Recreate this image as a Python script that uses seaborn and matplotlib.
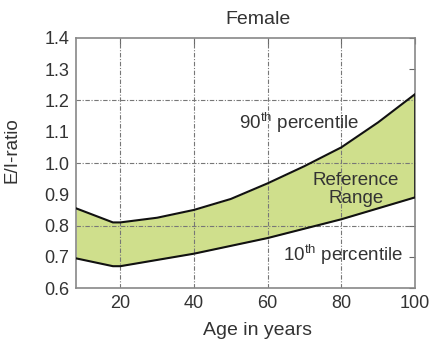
import numpy as np
import pandas as pd
import seaborn as sns
import matplotlib.pyplot as plt

# reference range
age = [8, 18, 20, 30, 40, 50, 60, 70, 80, 90, 100]
p90 = [0.855, 0.81, 0.81, 0.825, 0.85, 0.885, 0.935, 0.99, 1.05, 1.13, 1.22]
p10 = [0.695, 0.67, 0.67, 0.69, 0.71, 0.735, 0.76, 0.79, 0.82, 0.855, 0.89]

x_ticks = [20, 40, 60, 80, 100]
y_ticks = [0.6, 0.7, 0.8, 0.9, 1.0, 1.1, 1.2, 1.3, 1.4]
x_grid = [20, 40, 60, 80]
y_grid = [0.8, 1.0, 1.2]

sns.set_style("white")
plt.rcParams['font.family'] = ['Liberation Sans', 'DejaVu Sans']
plt.rcParams['mathtext.fontset'] = 'custom'
plt.rcParams['mathtext.rm'] = 'Liberation Sans'
plt.rcParams['mathtext.it'] = 'Liberation Sans'

df = pd.DataFrame({"age": age, "p90": p90, "p10": p10})

fig, ax = plt.subplots(figsize=(4.3, 3.45), dpi=100)
fig.subplots_adjust(left=0.177, right=0.965, top=0.89, bottom=0.165)

ax.fill_between(df.age, df.p10, df.p90, color="#cfdf8c", lw=0, zorder=1)
sns.lineplot(data=df, x="age", y="p90", color="#111111", lw=1.5, ax=ax, zorder=3)
sns.lineplot(data=df, x="age", y="p10", color="#111111", lw=1.5, ax=ax, zorder=3)
ax.plot([age[-1], age[-1]], [p10[-1], p90[-1]], color="#111111", lw=1.8, zorder=3)

for g in x_grid:
    ax.axvline(g, color="#777777", lw=0.8, ls=(0, (4, 1.5, 1, 1.5)), zorder=2)
for g in y_grid:
    ax.axhline(g, color="#777777", lw=0.8, ls=(0, (4, 1.5, 1, 1.5)), zorder=2)

ax.set_xlim(8, 100)
ax.set_ylim(0.6, 1.4)
ax.set_xticks(x_ticks)
ax.set_yticks(y_ticks)
ax.set_yticklabels([f"{v:.1f}" for v in y_ticks])
ax.tick_params(direction="in", length=4, color="#666666", labelsize=13,
               labelcolor="#333333", top=True, right=True, pad=5)
for s in ax.spines.values():
    s.set_color("#888888")
    s.set_linewidth(1.2)

ax.set_title("Female", fontsize=14, color="#333333", pad=10, x=0.537)
ax.set_xlabel("Age in years", fontsize=14, color="#333333")
ax.set_ylabel("E/I-ratio", fontsize=13.5, color="#333333")
ax.xaxis.set_label_coords(0.534, -0.135)
ax.yaxis.set_label_coords(-0.163, 0.552)

txt = dict(fontsize=13.5, color="#333333", ha="center", va="center")
ax.text(68.5, 1.128, r"90$^{\mathrm{th}}$ percentile", **txt)
ax.text(84, 0.945, "Reference", **txt)
ax.text(84, 0.885, "Range", **txt)
ax.text(80.5, 0.705, r"10$^{\mathrm{th}}$ percentile", **txt)

fig.savefig("out.png", dpi=100)
